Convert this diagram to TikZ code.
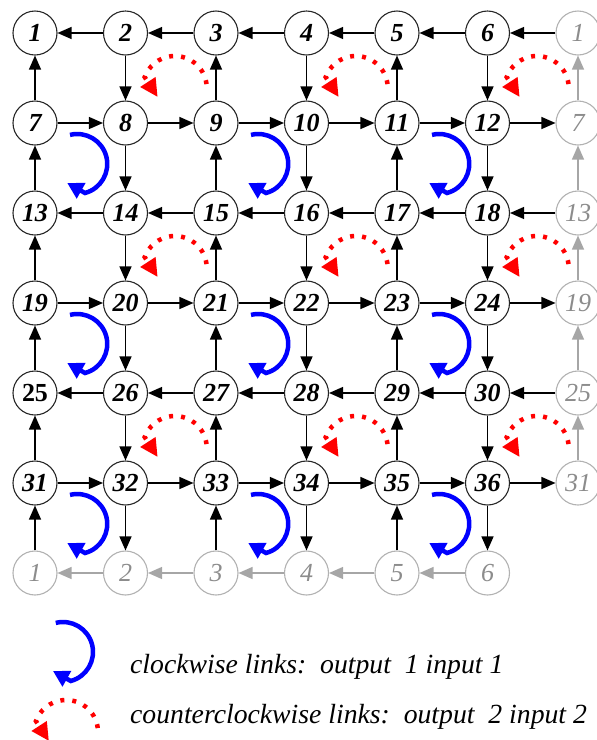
\documentclass[tikz,border=0pt]{standalone}
\usepackage{fontspec}
\setmainfont{Liberation Serif}
\usepackage{tikz}
\usetikzlibrary{arrows.meta}

\begin{document}
\begin{tikzpicture}[
  x=1pt, y=1pt,
  router/.style={circle, draw=black!85, line width=1.1pt, minimum size=44pt, inner sep=0pt, fill=white, font=\fontsize{26}{26}\selectfont\bfseries\itshape},
  ghost/.style={router, draw=black!30, text=black!45, font=\fontsize{26}{26}\selectfont\itshape},
  link/.style={-{Triangle[length=14pt, width=12pt]}, line width=1.3pt, color=black},
  ghostlink/.style={link, color=black!35},
  cwlink/.style={-{Triangle[length=16pt, width=17pt]}, line width=4.5pt, color=blue},
  ccwlink/.style={-{Triangle[length=18pt, width=17pt]}, line width=4.5pt, color=red, dash pattern=on 4pt off 8pt},
  legend/.style={font=\fontsize{27.7}{28}\selectfont\itshape, inner sep=0pt}
]
\useasboundingbox (0,0) rectangle (597,-740);

% Tier 1: 6x6 mesh of routers
\foreach \r in {0,...,5}
  \foreach \c in {0,...,5} {
    \pgfmathtruncatemacro\n{6*\r+\c+1}
    \node[router] (n\n) at (35+90.5*\c, -33-90*\r) {\ifnum\n=25 \upshape\fi\n};
  }

% Wrap-around copies: east column and south row
\foreach \r in {0,...,5} {
  \pgfmathtruncatemacro\n{6*\r+1}
  \node[ghost] (e\n) at (578, -33-90*\r) {\n};
}
\foreach \c in {1,...,6}
  \node[ghost] (s\c) at (35+90.5*\c-90.5, -573) {\c};

% Row links (odd rows leftwards, even rows rightwards)
\foreach \r in {0,...,5}
  \foreach \c in {1,...,5} {
    \pgfmathtruncatemacro\a{6*\r+\c}
    \pgfmathtruncatemacro\b{\a+1}
    \ifodd\r\relax \draw[link] (n\a) -- (n\b); \else \draw[link] (n\b) -- (n\a); \fi
  }
\foreach \r in {0,...,5} {
  \pgfmathtruncatemacro\a{6*\r+1}
  \pgfmathtruncatemacro\b{6*\r+6}
  \ifodd\r\relax \draw[link] (n\b) -- (e\a); \else \draw[link] (e\a) -- (n\b); \fi
}

% Column links (odd columns upwards, even columns downwards)
\foreach \c in {1,...,6}
  \foreach \r in {0,...,4} {
    \pgfmathtruncatemacro\a{6*\r+\c}
    \pgfmathtruncatemacro\b{\a+6}
    \ifodd\c\relax \draw[link] (n\b) -- (n\a); \else \draw[link] (n\a) -- (n\b); \fi
  }
\foreach \c in {1,...,6} {
  \pgfmathtruncatemacro\b{30+\c}
  \ifodd\c\relax \draw[link] (s\c) -- (n\b); \else \draw[link] (n\b) -- (s\c); \fi
}

% Links between the wrap-around copies
\foreach \r in {1,...,5} {
  \pgfmathtruncatemacro\a{6*\r-5}
  \pgfmathtruncatemacro\b{6*\r+1}
  \draw[ghostlink] (e\b) -- (e\a);
}
\foreach \c in {1,...,5} {
  \pgfmathtruncatemacro\b{\c+1}
  \draw[ghostlink] (s\b) -- (s\c);
}

% Turn arcs inside the cells
\foreach \r in {1,3,5}
  \foreach \c in {0,2,4}
    \draw[cwlink] ([shift={(104:30)}] 77.25+90.5*\c, -74-90*\r) arc[start angle=104, end angle=-75, radius=30] -- ++(-17.8,10);
\foreach \r in {0,2,4}
  \foreach \c in {1,3,5}
    \draw[ccwlink] ([shift={(7:32)}] 84.25+90.5*\c, -88-90*\r) arc[start angle=7, end angle=160, radius=32] -- ++(13,-20);

% Legend
\draw[cwlink] ([shift={(104:30)}] 63,-652) arc[start angle=104, end angle=-75, radius=30] -- ++(-17.8,10);
\draw[ccwlink] ([shift={(7:32)}] 66,-732) arc[start angle=7, end angle=160, radius=32] -- ++(13,-20);
\node[legend, anchor=base west] (cwtext) at (130,-673) {clockwise links:\ \ output\ \ 1 input 1};
\node[legend, anchor=base west] (ccwtext) at (130,-723) {counterclockwise links:\ \ output\ \ 2 input 2};

\end{tikzpicture}
\end{document}
